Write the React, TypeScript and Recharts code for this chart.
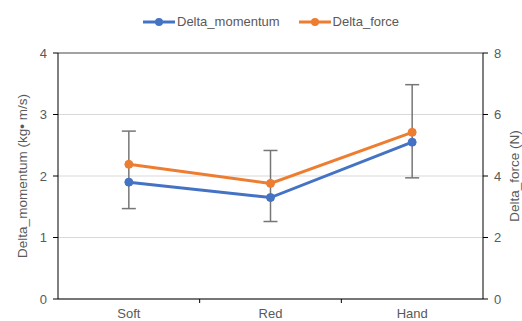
import * as React from "react";
import {
  ComposedChart,
  Line,
  XAxis,
  YAxis,
  CartesianGrid,
  ErrorBar,
  ReferenceLine,
} from "recharts";

const categories = ["Soft", "Red", "Hand"];
const deltaMomentum = [1.9, 1.65, 2.55];
const deltaForce = [4.38, 3.76, 5.42];
// error bar ends, in newtons
const forceLow = [2.94, 2.52, 3.94];
const forceHigh = [5.46, 4.83, 6.97];

const momentumTicks = [0, 1, 2, 3, 4];
const forceTicks = [0, 2, 4, 6, 8];
const xTicks = [0, 0.5, 1, 1.5, 2, 2.5, 3];

const BLUE = "#4472C4";
const ORANGE = "#ED7D31";
const TEXT = "#595959";
const FONT = "'Liberation Sans', Arial, sans-serif";

const data = categories.map((name, i) => ({
  x: i + 0.5,
  name,
  momentum: deltaMomentum[i],
  force: deltaForce[i],
  forceErr: [deltaForce[i] - forceLow[i], forceHigh[i] - deltaForce[i]],
}));

// category names sit between the boundary tick marks
function CategoryTick(props: any) {
  const { x, y, payload } = props;
  const v = payload.value;
  if (v % 1 === 0.5) {
    return (
      <text x={x} y={y + 19} textAnchor="middle" fill={TEXT} fontSize={13} fontFamily={FONT}>
        {categories[Math.floor(v)]}
      </text>
    );
  }
  if (v > 0 && v < categories.length) {
    return <line x1={x} x2={x} y1={y} y2={y + 4} stroke="#000" strokeWidth={1} />;
  }
  return <g />;
}

function AxisTitle({ viewBox, value, dx }: any) {
  const cx = viewBox.x + dx;
  const cy = viewBox.y + viewBox.height / 2;
  return (
    <text
      x={cx}
      y={cy}
      transform={`rotate(-90 ${cx} ${cy})`}
      textAnchor="middle"
      dominantBaseline="central"
      fill={TEXT}
      fontSize={13.5}
      fontFamily={FONT}
    >
      {value}
    </text>
  );
}

function LegendItem({ color, label }: { color: string; label: string }) {
  return (
    <div style={{ display: "flex", alignItems: "center", marginRight: 19 }}>
      <svg width={32} height={10}>
        <line x1={0} x2={32} y1={5} y2={5} stroke={color} strokeWidth={3} />
        <circle cx={16} cy={5} r={4} fill={color} />
      </svg>
      <span style={{ marginLeft: 2, color: TEXT, fontSize: 13, fontFamily: FONT }}>{label}</span>
    </div>
  );
}

export default function App() {
  return (
    <div style={{ position: "absolute", left: 0, top: 0, width: 522, height: 321, background: "#fff" }}>
      <div style={{ position: "absolute", left: 143, top: 14, display: "flex" }}>
        <LegendItem color={BLUE} label="Delta_momentum" />
        <LegendItem color={ORANGE} label="Delta_force" />
      </div>
      <ComposedChart
        width={522}
        height={321}
        data={data}
        margin={{ top: 53, right: 0, bottom: 0, left: 0 }}
      >
        <CartesianGrid yAxisId="left" vertical={false} stroke="#d9d9d9" />
        <XAxis
          dataKey="x"
          type="number"
          domain={[0, 3]}
          ticks={xTicks}
          interval={0}
          height={22}
          axisLine={{ stroke: "#000" }}
          tickLine={false}
          tickSize={0}
          tickMargin={0}
          tick={<CategoryTick />}
        />
        <YAxis
          yAxisId="left"
          domain={[0, 4]}
          ticks={momentumTicks}
          width={58}
          axisLine={{ stroke: "#000" }}
          tickLine={{ stroke: "#000" }}
          tickSize={5}
          tickMargin={6}
          tick={{ fill: TEXT, fontSize: 13, fontFamily: FONT }}
          label={<AxisTitle value="Delta_momentum (kg• m/s)" dx={22} />}
        />
        <YAxis
          yAxisId="right"
          orientation="right"
          domain={[0, 8]}
          ticks={forceTicks}
          width={39}
          axisLine={{ stroke: "#000" }}
          tickLine={{ stroke: "#000" }}
          tickSize={5}
          tickMargin={6}
          tick={{ fill: TEXT, fontSize: 13, fontFamily: FONT }}
          label={<AxisTitle value="Delta_force (N)" dx={31} />}
        />
        <ReferenceLine yAxisId="left" y={4} stroke="#595959" strokeWidth={1} />
        {/* error bars go first so both series draw over them */}
        <Line
          yAxisId="right"
          dataKey="force"
          stroke="none"
          dot={false}
          activeDot={false}
          legendType="none"
          isAnimationActive={false}
        >
          <ErrorBar dataKey="forceErr" direction="y" width={7} stroke="#767676" strokeWidth={1.5} />
        </Line>
        <Line
          yAxisId="left"
          dataKey="momentum"
          stroke={BLUE}
          strokeWidth={3}
          dot={{ r: 4, fill: BLUE, stroke: BLUE, strokeWidth: 1 }}
          isAnimationActive={false}
        />
        <Line
          yAxisId="right"
          dataKey="force"
          stroke={ORANGE}
          strokeWidth={3}
          dot={{ r: 4, fill: ORANGE, stroke: ORANGE, strokeWidth: 1 }}
          isAnimationActive={false}
        />
      </ComposedChart>
    </div>
  );
}
